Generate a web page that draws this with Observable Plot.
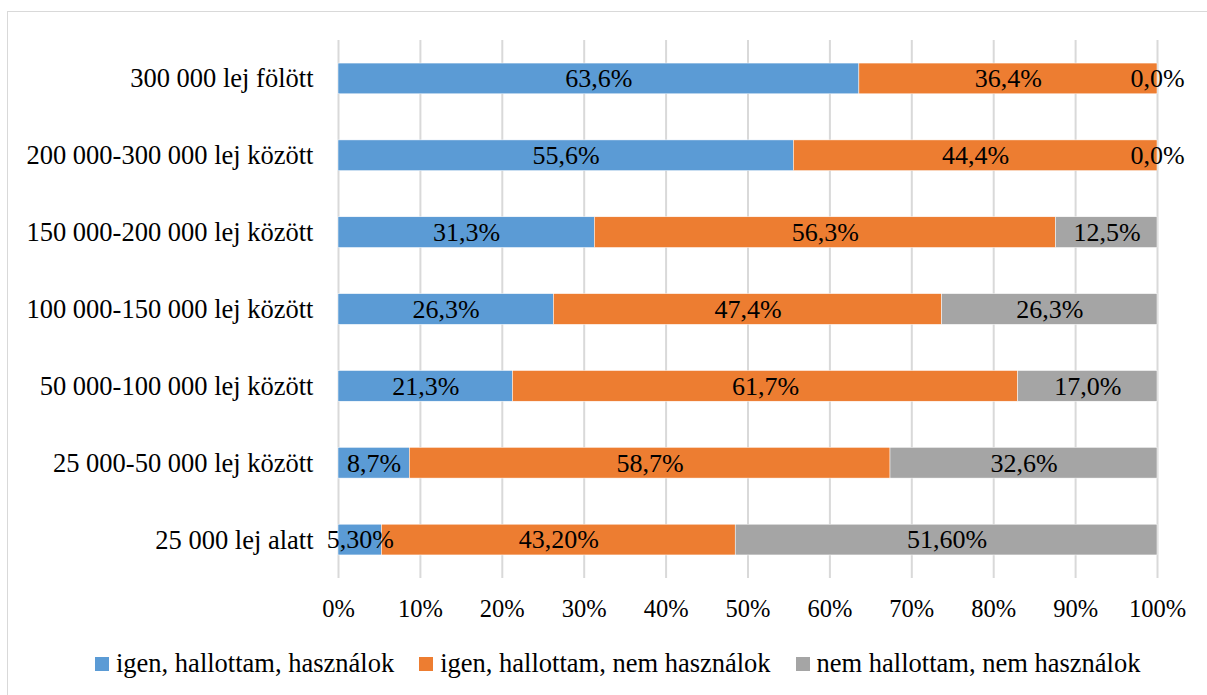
<!DOCTYPE html>
<html>
<head>
<meta charset="utf-8">
<script src="https://cdn.jsdelivr.net/npm/d3@7"></script>
<script src="https://cdn.jsdelivr.net/npm/@observablehq/plot@0.6"></script>
<style>
  html, body { margin: 0; padding: 0; width: 1207px; height: 695px; overflow: hidden; background: #fff; }
  #frame { position: absolute; left: 7px; top: 11px; width: 1210px; height: 700px; border: 1px solid #d9d9d9; box-sizing: border-box; }
  #chart { position: absolute; left: 0; top: 0; }
  #legend { position: absolute; left: 95px; top: 648px; display: flex; align-items: center; font-family: 'Liberation Serif', 'Times New Roman', serif; font-size: 26.5px; color: #000; white-space: nowrap; }
  .item { display: flex; align-items: center; margin-right: 25px; }
  .sw { width: 14px; height: 14px; margin-right: 7px; }
</style>
</head>
<body>
<div id="frame"></div>
<div id="chart"></div>
<div id="legend"></div>
<script>
const categories = [
  "300 000 lej fölött",
  "200 000-300 000 lej között",
  "150 000-200 000 lej között",
  "100 000-150 000 lej között",
  "50 000-100 000 lej között",
  "25 000-50 000 lej között",
  "25 000 lej alatt"
];
const seriesNames = ["igen, hallottam, használok", "igen, hallottam, nem használok", "nem hallottam, nem használok"];
const seriesColors = ["#5B9BD5", "#ED7D31", "#A5A5A5"];
const usersValues    = [63.6, 55.6, 31.3, 26.3, 21.3, 8.7, 5.3];
const nonUsersValues = [36.4, 44.4, 56.3, 47.4, 61.7, 58.7, 43.2];
const unheardValues  = [0.0, 0.0, 12.5, 26.3, 17.0, 32.6, 51.6];
const labelDecimals  = [1, 1, 1, 1, 1, 1, 2];
const xTicks = [0, 10, 20, 30, 40, 50, 60, 70, 80, 90, 100];

const seriesValues = [usersValues, nonUsersValues, unheardValues];
const data = [];
seriesNames.forEach((s, si) => {
  categories.forEach((c, ci) => {
    const v = seriesValues[si][ci];
    data.push({cat: c, series: s, value: v, label: v.toFixed(labelDecimals[ci]).replace(".", ",") + "%"});
  });
});

const font = "'Liberation Serif', 'Times New Roman', serif";
const chart = Plot.plot({
  width: 1207,
  height: 630,
  marginLeft: 338,
  marginRight: 50,
  marginTop: 40,
  marginBottom: 52,
  style: {fontFamily: font, fontSize: "26px", color: "#000", background: "transparent"},
  x: {domain: [0, 100], clamp: true},
  y: {domain: categories, paddingInner: 0.6, paddingOuter: 0.3, round: false},
  color: {domain: seriesNames, range: seriesColors},
  marks: [
    Plot.gridX(xTicks, {stroke: "#d9d9d9", strokeWidth: 2, strokeOpacity: 1}),
    Plot.barX(data, Plot.stackX({x: "value", y: "cat", fill: "series", order: seriesNames, stroke: "white", strokeWidth: 0.5})),
    Plot.textX(data, Plot.stackX({x: "value", y: "cat", z: "series", order: seriesNames, text: "label", fill: "#000", fontSize: 26, fontFamily: font})),
    Plot.axisX({ticks: xTicks, tickFormat: d => d + "%", tickSize: 0, tickPadding: 21, fontSize: 24.5, label: null}),
    Plot.axisY({tickSize: 0, tickPadding: 25, fontSize: 26.5, label: null})
  ]
});
document.getElementById("chart").appendChild(chart);

const legend = document.getElementById("legend");
seriesNames.forEach((s, i) => {
  const item = document.createElement("div");
  item.className = "item";
  const sw = document.createElement("div");
  sw.className = "sw";
  sw.style.background = seriesColors[i];
  const t = document.createElement("span");
  t.textContent = s;
  item.appendChild(sw);
  item.appendChild(t);
  legend.appendChild(item);
});
</script>
</body>
</html>
